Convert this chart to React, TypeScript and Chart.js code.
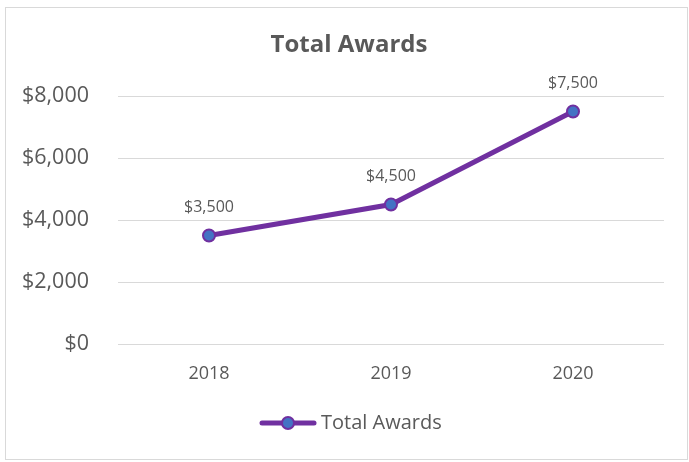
import React, { useEffect, useRef } from "react";
import { Chart, registerables } from "chart.js";

Chart.register(...registerables);

const categories: string[] = ["2018", "2019", "2020"];
const awards: number[] = [3500, 4500, 7500];
const seriesName = "Total Awards";
const chartTitle = "Total Awards";
const yMin = 0;
const yMax = 8000;
const yStep = 2000;

const TEXT = "#595959";
const LINE = "#7030A0";
const POINT = "#4472C4";
const GRID = "#d9d9d9";
const FONT = "'Open Sans', 'Noto Sans', sans-serif";

const fmt = (v: number) => "$" + v.toLocaleString("en-US");

const decorPlugin = {
  id: "decor",
  beforeDraw(chart: any) {
    const ctx = chart.ctx;
    ctx.save();
    ctx.fillStyle = "#ffffff";
    ctx.fillRect(0, 0, chart.width, chart.height);
    ctx.strokeStyle = GRID;
    ctx.lineWidth = 1;
    ctx.strokeRect(5.5, 7.5, 682, 452);
    ctx.restore();
  },
  afterDraw(chart: any) {
    const ctx = chart.ctx;
    ctx.save();
    // title
    ctx.fillStyle = TEXT;
    ctx.font = `bold 24px ${FONT}`;
    ctx.textAlign = "center";
    ctx.textBaseline = "middle";
    ctx.fillText(chartTitle, 349, 45);
    // data labels
    ctx.font = `16px ${FONT}`;
    const meta = chart.getDatasetMeta(0);
    meta.data.forEach((pt: any, i: number) => {
      ctx.fillText(fmt(awards[i]), pt.x, pt.y - 28);
    });
    // legend
    const ly = 423;
    ctx.strokeStyle = LINE;
    ctx.lineWidth = 5;
    ctx.lineCap = "round";
    ctx.beginPath();
    ctx.moveTo(262, ly);
    ctx.lineTo(314, ly);
    ctx.stroke();
    ctx.beginPath();
    ctx.arc(288, ly, 6, 0, Math.PI * 2);
    ctx.fillStyle = POINT;
    ctx.fill();
    ctx.lineWidth = 2;
    ctx.stroke();
    ctx.fillStyle = TEXT;
    ctx.font = `20px ${FONT}`;
    ctx.textAlign = "left";
    ctx.fillText(seriesName, 321, ly);
    ctx.restore();
  },
};

export default function App() {
  const ref = useRef<HTMLCanvasElement | null>(null);
  useEffect(() => {
    if (!ref.current) return;
    const chart = new Chart(ref.current, {
      type: "line",
      data: {
        labels: categories,
        datasets: [
          {
            label: seriesName,
            data: awards,
            borderColor: LINE,
            borderWidth: 5,
            backgroundColor: POINT,
            pointBackgroundColor: POINT,
            pointBorderColor: LINE,
            pointBorderWidth: 2,
            pointRadius: 6,
            tension: 0,
            borderCapStyle: "round",
          },
        ],
      },
      options: {
        responsive: false,
        animation: false,
        layout: { padding: { top: 96, right: 25, bottom: 78, left: 0 } },
        plugins: {
          legend: { display: false },
          title: { display: false },
          tooltip: { enabled: false },
        },
        scales: {
          x: {
            offset: true,
            grid: { display: false, drawTicks: false },
            border: { display: false },
            ticks: { color: TEXT, font: { family: FONT, size: 18 }, padding: 19 },
            afterFit: (s: any) => {
              s.height = 40;
            },
          },
          y: {
            min: yMin,
            max: yMax,
            grid: { color: GRID, lineWidth: 1, drawTicks: false },
            border: { display: false },
            ticks: {
              stepSize: yStep,
              color: TEXT,
              font: { family: FONT, size: 21.5 },
              padding: 29,
              callback: (v: any) => fmt(Number(v)),
            },
            afterFit: (s: any) => {
              s.width = 118;
            },
          },
        },
      },
      plugins: [decorPlugin],
    } as any);
    return () => chart.destroy();
  }, []);
  return (
    <div style={{ position: "absolute", left: 0, top: 0, width: 689, height: 462 }}>
      <canvas ref={ref} width={689} height={462} />
    </div>
  );
}
